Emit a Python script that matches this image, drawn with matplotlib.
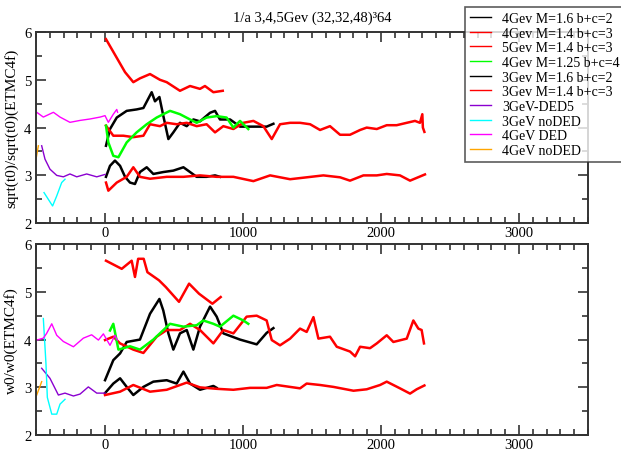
"""Gradient-flow scale ratios vs MC time, two stacked panels -> out.png"""
import matplotlib

matplotlib.use("Agg")
import matplotlib.pyplot as plt  # noqa: E402
from matplotlib.ticker import MultipleLocator  # noqa: E402

plt.rcParams["font.family"] = ["Liberation Serif", "DejaVu Serif"]

TITLE = "1/a 3,4,5Gev (32,32,48)³64"
YLABELS = ["sqrt(t0)/sqrt(t0)(ETMC4f)", "w0/w0(ETMC4f)"]

# (label, colour) in legend order
names = ["4Gev M=1.6 b+c=2", "4Gev M=1.4 b+c=3", "5Gev M=1.4 b+c=3",
         "4Gev M=1.25 b+c=4", "3Gev M=1.6 b+c=2", "3Gev M=1.4 b+c=3",
         "3GeV-DED5", "3GeV noDED", "4GeV DED", "4GeV noDED"]
colors = ["black", "red", "red", "#00ff00", "black", "red",
          "#8a00d0", "#00ffff", "#ff00ff", "#ffa500"]

# --- top panel: sqrt(t0) ratio ---
t0_4g16_x = [7, 36, 85, 157, 229, 278, 338, 362, 394, 422, 459, 495, 543, 592,
             640, 688, 761, 797, 833, 906, 978, 1051, 1123, 1171, 1220]
t0_4g16_y = [3.62, 3.97, 4.21, 4.35, 4.38, 4.41, 4.74, 4.55, 4.64, 4.25, 3.76,
             3.9, 4.1, 4.03, 4.17, 4.13, 4.31, 4.35, 4.17, 4.17, 4.02, 4.02,
             4.02, 4.02, 4.08]
t0_4g14_x = [7, 60, 133, 205, 278, 326, 398, 447, 519, 592, 664, 736, 797, 857,
             930, 1002, 1075, 1147, 1208, 1268, 1341, 1413, 1486, 1558, 1630,
             1703, 1775, 1848, 1896, 1969, 2041, 2113, 2186, 2246, 2282, 2299,
             2303, 2314]
t0_4g14_y = [4.04, 3.83, 3.83, 3.8, 3.83, 4.07, 4.03, 4.1, 4.07, 4.1, 4.03,
             4.07, 3.9, 4.03, 3.97, 4.1, 4.14, 4.03, 3.76, 4.07, 4.1, 4.1, 4.07,
             3.95, 4.03, 3.85, 3.85, 3.95, 4.0, 3.97, 4.05, 4.05, 4.1, 4.14,
             4.1, 4.28, 4.0, 3.91]
t0_5g_x = [7, 145, 205, 253, 326, 398, 447, 543, 616, 688, 724, 785, 853]
t0_5g_y = [5.85, 5.16, 4.95, 5.03, 5.12, 5.0, 4.95, 4.77, 4.87, 4.81, 4.87,
           4.74, 4.77]
t0_4g125_x = [7, 24, 60, 97, 157, 229, 302, 374, 422, 471, 543, 616, 664, 736,
              809, 881, 930, 978, 1038]
t0_4g125_y = [4.04, 3.69, 3.41, 3.38, 3.69, 3.9, 4.07, 4.21, 4.28, 4.35, 4.28,
              4.17, 4.1, 4.21, 4.24, 4.21, 4.0, 4.14, 3.97]
t0_3g16_x = [7, 36, 72, 109, 145, 181, 217, 253, 302, 350, 422, 495, 568, 616,
             664, 736, 797, 833]
t0_3g16_y = [2.97, 3.2, 3.31, 3.2, 2.97, 2.85, 2.82, 3.07, 3.17, 3.03, 3.07,
             3.1, 3.17, 3.07, 2.97, 2.97, 3.0, 2.97]
t0_3g14_x = [7, 24, 85, 157, 205, 253, 326, 447, 568, 688, 809, 930, 1075,
             1196, 1341, 1462, 1582, 1703, 1775, 1872, 1969, 2041, 2137, 2210,
             2318]
t0_3g14_y = [2.85, 2.68, 2.85, 2.97, 3.17, 2.97, 2.93, 2.97, 2.97, 3.0, 2.97,
             2.97, 2.88, 3.0, 2.92, 2.96, 3.0, 2.96, 2.89, 3.0, 3.0, 3.03, 3.0,
             2.89, 3.02]
t0_ded5_x = [-459, -435, -399, -350, -302, -254, -205, -133, -60, 0]
t0_ded5_y = [3.62, 3.34, 3.13, 3.0, 2.97, 3.03, 2.97, 3.03, 2.97, 3.02]
t0_3gno_x = [-442, -411, -380, -350, -314, -290]
t0_3gno_y = [2.64, 2.5, 2.36, 2.57, 2.85, 2.92]
t0_4gded_x = [-495, -447, -374, -326, -254, -181, -109, -36, 0, 24, 60, 85, 91]
t0_4gded_y = [4.32, 4.22, 4.32, 4.22, 4.11, 4.15, 4.18, 4.22, 4.25, 4.11,
              4.28, 4.38, 4.32]
t0_4gno_x = [-500, -483]
t0_4gno_y = [3.34, 3.62]

# --- bottom panel: w0 ratio ---
w0_4g16_x = [0, 60, 109, 157, 253, 326, 394, 422, 459, 495, 543, 592, 640, 688,
             761, 809, 857, 978, 1099, 1171, 1220]
w0_4g16_y = [3.15, 3.57, 3.71, 3.95, 4.0, 4.54, 4.85, 4.61, 4.13, 3.79, 4.13,
             4.2, 3.79, 4.27, 4.69, 4.48, 4.13, 4.0, 3.9, 4.14, 4.24]
w0_4g14_x = [0, 60, 109, 205, 278, 374, 447, 543, 616, 688, 785, 857, 930, 1026,
             1099, 1171, 1208, 1268, 1341, 1413, 1461, 1510, 1546, 1630, 1679,
             1775, 1812, 1848, 1920, 1969, 2041, 2089, 2186, 2234, 2270, 2294,
             2311]
w0_4g14_y = [3.99, 4.06, 3.92, 3.79, 3.72, 4.06, 4.2, 4.2, 4.33, 4.2, 3.92,
             4.2, 4.13, 4.48, 4.5, 4.4, 3.99, 3.88, 4.02, 4.23, 4.16, 4.47,
             4.02, 4.06, 3.85, 3.75, 3.65, 3.85, 3.82, 3.92, 4.09, 3.95, 4.02,
             4.4, 4.23, 4.2, 3.92]
w0_5g_x = [7, 121, 193, 217, 240, 280, 307, 391, 440, 536, 609, 681, 778, 838]
w0_5g_y = [5.65, 5.48, 5.65, 5.31, 5.69, 5.69, 5.41, 5.24, 5.1, 4.79, 5.17,
           4.96, 4.75, 4.89]
w0_4g125_x = [36, 60, 97, 181, 253, 350, 471, 568, 664, 712, 785, 833, 930,
              1002, 1038]
w0_4g125_y = [4.19, 4.33, 3.79, 3.86, 3.79, 4.0, 4.33, 4.27, 4.3, 4.4, 4.33,
              4.27, 4.5, 4.4, 4.33]
w0_3g16_x = [0, 60, 109, 157, 205, 278, 350, 447, 519, 568, 616, 688, 785, 809]
w0_3g16_y = [2.88, 3.08, 3.19, 3.01, 2.84, 3.01, 3.12, 3.15, 3.08, 3.33, 3.08,
             2.95, 3.03, 2.99]
w0_3g14_x = [0, 109, 205, 326, 447, 592, 688, 809, 930, 1051, 1171, 1244,
             1413, 1461, 1558, 1655, 1800, 1896, 1993, 2041, 2137, 2210, 2258,
             2314]
w0_3g14_y = [2.84, 2.91, 3.05, 2.91, 2.95, 3.1, 3.0, 2.97, 2.95, 2.99, 2.99,
             3.05, 2.98, 3.08, 3.05, 3.01, 2.93, 2.96, 3.05, 3.12, 2.98, 2.87,
             2.96, 3.04]
w0_ded5_x = [-459, -399, -338, -290, -229, -181, -121, -60, 0]
w0_ded5_y = [3.4, 3.19, 2.84, 2.88, 2.82, 2.86, 3.01, 2.88, 2.88]
w0_3gno_x = [-447, -428, -418, -386, -350, -326, -290]
w0_3gno_y = [4.44, 3.5, 2.79, 2.44, 2.44, 2.65, 2.75]
w0_4gded_x = [-495, -447, -423, -386, -350, -302, -229, -157, -97, -48, -12, 36,
              72, 89]
w0_4gded_y = [3.99, 4.03, 4.13, 4.33, 4.09, 3.96, 3.85, 4.03, 4.1, 3.99, 4.12,
              3.88, 4.09, 3.99]
w0_4gno_x = [-495, -459]
w0_4gno_y = [2.84, 3.12]

top = [(t0_4g16_x, t0_4g16_y), (t0_4g14_x, t0_4g14_y), (t0_5g_x, t0_5g_y),
       (t0_4g125_x, t0_4g125_y), (t0_3g16_x, t0_3g16_y), (t0_3g14_x, t0_3g14_y),
       (t0_ded5_x, t0_ded5_y), (t0_3gno_x, t0_3gno_y), (t0_4gded_x, t0_4gded_y),
       (t0_4gno_x, t0_4gno_y)]
bot = [(w0_4g16_x, w0_4g16_y), (w0_4g14_x, w0_4g14_y), (w0_5g_x, w0_5g_y),
       (w0_4g125_x, w0_4g125_y), (w0_3g16_x, w0_3g16_y), (w0_3g14_x, w0_3g14_y),
       (w0_ded5_x, w0_ded5_y), (w0_3gno_x, w0_3gno_y), (w0_4gded_x, w0_4gded_y),
       (w0_4gno_x, w0_4gno_y)]

fig = plt.figure(figsize=(6.21, 4.52), dpi=100)
ax1 = fig.add_axes([0.058, 0.504, 0.889, 0.423])
ax2 = fig.add_axes([0.058, 0.035, 0.889, 0.423])

thin = ("#8a00d0", "#00ffff", "#ff00ff", "#ffa500")
for ax, series, ylab in ((ax1, top, YLABELS[0]), (ax2, bot, YLABELS[1])):
    for (x, y), c, n in zip(series, colors, names):
        ax.plot(x, y, color=c, lw=1.0 if c in thin else 1.8, label=n)
    ax.set_xlim(-500, 3500)
    ax.set_ylim(2, 6)
    ax.xaxis.set_major_locator(MultipleLocator(1000))
    ax.xaxis.set_minor_locator(MultipleLocator(100))
    ax.yaxis.set_major_locator(MultipleLocator(1))
    ax.yaxis.set_minor_locator(MultipleLocator(0.5))
    ax.tick_params(which="both", direction="in", top=True, right=True,
                   labelsize=10.5, width=1.2, color="#333333")
    ax.tick_params(which="major", length=7)
    ax.tick_params(which="minor", length=4)
    ax.tick_params(axis="x", pad=2)
    for s in ax.spines.values():
        s.set_linewidth(1.4)
        s.set_color("#333333")
    ax.set_ylabel(ylab, fontsize=11, labelpad=4)

ax1.set_title(TITLE, fontsize=10.5, pad=8)

# legend box in figure coords, spilling past the right edge as in the original
h, l = ax1.get_legend_handles_labels()
leg = fig.legend(h, l, loc="upper left", bbox_to_anchor=(0.749, 0.982),
                 borderaxespad=0, fontsize=10, labelspacing=0.12,
                 handlelength=1.5, handletextpad=0.8, borderpad=0.35,
                 frameon=True, fancybox=False, edgecolor="#333333")
leg.get_frame().set_linewidth(1.2)
for line in leg.get_lines():
    line.set_linewidth(1.0)

fig.savefig("out.png", dpi=100)
